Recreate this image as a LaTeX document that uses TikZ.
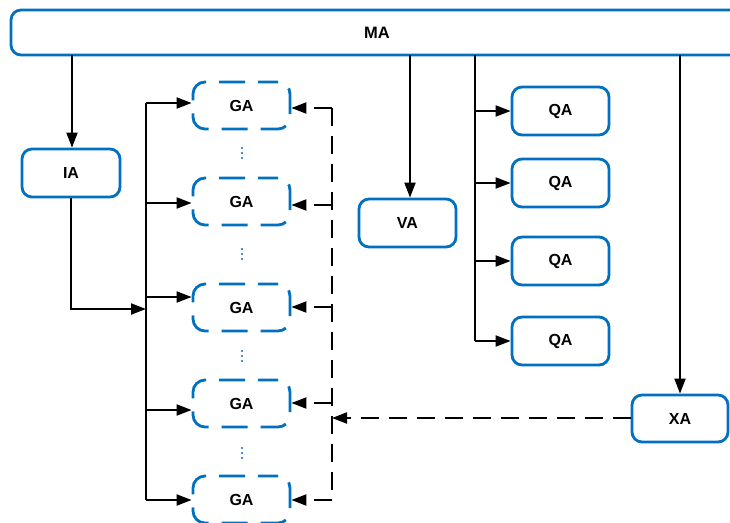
\documentclass[tikz,border=0pt]{standalone}
\usepackage{fontspec}
\setmainfont{Liberation Sans}
\usetikzlibrary{arrows.meta}
\definecolor{mblue}{HTML}{0070C0}
\tikzset{
  box/.style={draw=mblue, line width=2.8pt, rounded corners=10pt, minimum width=97pt, minimum height=48pt, inner sep=0pt, font=\bfseries\fontsize{16}{18}\selectfont, text=black, fill=white},
  gbox/.style={box, dash pattern=on 26pt off 13pt, dash phase=6pt, rounded corners=12pt, minimum height=47pt},
  arr/.style={line width=2pt, -{Triangle[length=15pt,width=11pt]}},
  ln/.style={line width=2pt},
  darr/.style={line width=2pt, dash pattern=on 18pt off 10pt, -{Triangle[length=15pt,width=11pt]}},
  dln/.style={line width=2pt, dash pattern=on 18pt off 10pt},
  vdots/.pic={\fill[mblue] (0,-5) circle (1.1pt) (0,0) circle (1.1pt) (0,5) circle (1.1pt);}
}
\begin{document}
\begin{tikzpicture}[x=1pt,y=-1pt]
\useasboundingbox (0,0) rectangle (730,522);
% boxes
\node[box, minimum width=732pt, minimum height=45pt, font=\bfseries\fontsize{16.5}{18}\selectfont] (MA) at (377,32.5) {MA};
\node[box, minimum width=98pt] (IA) at (71,173) {IA};
\node[box] (VA) at (407.5,223) {VA};
\node[box] (QA1) at (560.5,111) {QA};
\node[box] (QA2) at (560.5,183) {QA};
\node[box] (QA3) at (560.5,261) {QA};
\node[box] (QA4) at (560.5,341) {QA};
\node[box, minimum width=96pt, minimum height=47pt] (XA) at (680,418.5) {XA};
\node[gbox] (GA1) at (241.5,105.5) {GA};
\node[gbox] (GA2) at (241.5,201.5) {GA};
\node[gbox] (GA3) at (241.5,307.5) {GA};
\node[gbox] (GA4) at (241.5,403.5) {GA};
\node[gbox] (GA5) at (241.5,499.5) {GA};
% dots
\pic at (242,153) {vdots};
\pic at (242,254) {vdots};
\pic at (242,356) {vdots};
\pic at (242,453) {vdots};
% MA down arrows
\coordinate (mIA) at (72,55);
\coordinate (mVA) at (410,55);
\coordinate (mQ) at (474.5,55);
\coordinate (mXA) at (680,55);
\draw[arr] (mIA) -- (mIA |- IA.north);
\draw[arr] (mVA) -- (mVA |- VA.north);
\draw[arr] (mXA) -- (mXA |- XA.north);
\draw[ln] (mQ) -- (mQ |- QA4.west);
\draw[arr] (mQ |- QA1.west) -- (QA1.west);
\draw[arr] (mQ |- QA2.west) -- (QA2.west);
\draw[arr] (mQ |- QA3.west) -- (QA3.west);
\draw[arr] (mQ |- QA4.west) -- (QA4.west);
% left bus
\coordinate (L1) at (146,103);
\coordinate (L2) at (146,203);
\coordinate (L3) at (146,297);
\coordinate (L4) at (146,410);
\coordinate (L5) at (146,500);
\coordinate (LI) at (146,309);
\draw[ln] (L1) -- (L5);
\draw[arr] (L1) -- (L1 -| GA1.west);
\draw[arr] (L2) -- (L2 -| GA2.west);
\draw[arr] (L3) -- (L3 -| GA3.west);
\draw[arr] (L4) -- (L4 -| GA4.west);
\draw[arr] (L5) -- (L5 -| GA5.west);
\draw[arr] (IA.south) |- (LI);
% right dashed bus
\coordinate (R1) at (332,108);
\coordinate (R2) at (332,205);
\coordinate (R3) at (332,307);
\coordinate (R4) at (332,403);
\coordinate (R5) at (332,500);
\coordinate (RX) at (332,418);
\draw[dln] (R1) -- (R5);
\draw[darr] (R1) -- (R1 -| GA1.east);
\draw[darr] (R2) -- (R2 -| GA2.east);
\draw[darr] (R3) -- (R3 -| GA3.east);
\draw[darr] (R4) -- (R4 -| GA4.east);
\draw[darr] (R5) -- (R5 -| GA5.east);
\draw[darr] (XA.west |- RX) -- (RX);
\end{tikzpicture}
\end{document}
